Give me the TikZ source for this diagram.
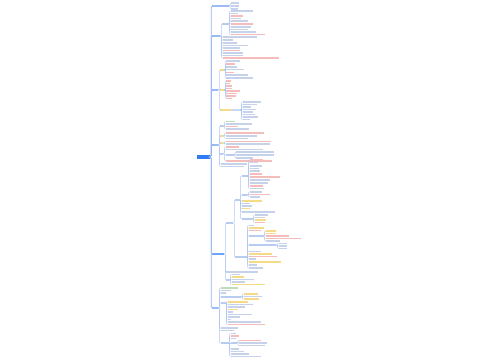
\documentclass[tikz,border=0pt]{standalone}
\usepackage{xcolor}
\usepackage{tikz}
\usetikzlibrary{positioning}
\definecolor{rootblue}{HTML}{2F7CF6}
\definecolor{topicblue}{HTML}{9ABCF3}
\definecolor{subblue}{HTML}{B8CCEF}
\definecolor{linkblue}{HTML}{AFC8F3}
\definecolor{trunkblue}{HTML}{93B6F0}
\definecolor{txtblue}{HTML}{C6D1EA}
\definecolor{txtred}{HTML}{F5BCBC}
\definecolor{hiyellow}{HTML}{F5DA88}
\definecolor{txtgreen}{HTML}{BEDFB5}
\tikzset{
  rootbox/.style={rectangle, fill=rootblue, minimum width=13pt,
    minimum height=4.5pt, inner sep=0pt},
  topic/.style={rectangle, fill=topicblue, minimum height=2.4pt,
    inner sep=0pt, anchor=west},
  subtopic/.style={rectangle, fill=#1, minimum height=2pt,
    inner sep=0pt, anchor=west},
  subtopic/.default=subblue,
  leaf/.style={rectangle, fill=#1, minimum height=1.2pt,
    inner sep=0pt, anchor=west},
  leaf/.default=txtblue,
  trunk/.style={draw=trunkblue, line width=0.8pt, rounded corners=1.5pt},
  link/.style={draw=linkblue, line width=0.45pt, rounded corners=1pt},
}
\begin{document}
\begin{tikzpicture}[x=1pt, y=-1pt]
  \useasboundingbox[fill=white] (0,0) rectangle (500,360);
  % root and main topics
  \node[rootbox] (root) at (203.5,157) {};
  \node[topic, minimum width=17] (a) at (212,6) {};
  \node[topic, minimum width=8] (b) at (212,36) {};
  \node[topic, minimum width=6] (c) at (212,90) {};
  \node[topic, minimum width=6] (d) at (212,145) {};
  \node[topic, minimum width=12, fill=rootblue!70] (e) at (212,254) {};
  \node[topic, minimum width=6] (f) at (212,308) {};
  \foreach \t in {a,b,c,d,e,f}
    \draw[trunk] (root.east) -- ++(1,0) |- (\t.west);

  % topic a
  \foreach \y/\w [count=\i] in {3/8,6/8,9/7}{
    \node[leaf, minimum width=\w] (a\i) at (231,\y) {};
    \draw[link] (a.east) -- ++(1,0) |- (a\i.west);
  }

  % topic b
  \node[subtopic, minimum width=6] (b1) at (222,24) {};
  \draw[link] (b.east) -- ++(1,0) |- (b1.west);
  \foreach \y/\w/\c [count=\i] in {11/22/txtblue, 13.5/7/txtblue, 16/12/txtred,
      18.5/10/txtblue, 21/17/txtblue, 24/22/txtred, 27/20/txtblue,
      29.5/17/txtblue, 32/25/txtblue, 34.5/34/txtred}{
    \node[leaf=\c, minimum width=\w] (b1-\i) at (231,\y) {};
    \draw[link] (b1.east) -- ++(1,0) |- (b1-\i.west);
  }
  \foreach \y/\w/\c [count=\i] in {37/34/txtblue, 40/10/txtblue, 43/14/txtblue,
      45.5/25/txtblue, 48/17/txtblue, 50.5/17/txtred, 53/20/txtblue,
      55.5/20/txtblue, 58/56/txtred}{
    \node[leaf=\c, minimum width=\w] (b-\i) at (223,\y) {};
    \draw[link] (b.east) -- ++(1,0) |- (b-\i.west);
  }

  % topic c
  \node[subtopic=hiyellow, minimum width=4] (c1) at (220,70) {};
  \node[subtopic=hiyellow, minimum width=4] (c2) at (220,90) {};
  \node[subtopic=hiyellow, minimum width=11] (c3) at (220,110) {};
  \foreach \t in {c1,c2,c3}
    \draw[link] (c.east) -- ++(1,0) |- (\t.west);
  \foreach \y/\w/\c [count=\i] in {61/14/txtblue, 64/9/txtred, 67/11/txtblue,
      69.5/18/txtblue, 72.5/8/txtred, 75/22/txtblue, 78/27/txtblue}{
    \node[leaf=\c, minimum width=\w] (c1-\i) at (226,\y) {};
    \draw[link] (c1.east) -- ++(1,0) |- (c1-\i.west);
  }
  \foreach \y/\w [count=\i] in {81/5, 83.5/4, 86/6, 88.5/6, 91/14, 93.5/11,
      96/10, 98.5/6}{
    \node[leaf=txtred, minimum width=\w] (c2-\i) at (226,\y) {};
    \draw[link] (c2.east) -- ++(1,0) |- (c2-\i.west);
  }
  \foreach \y/\w [count=\i] in {102/18, 104.5/14, 107/8, 109.5/13, 112/10,
      114.5/12, 117/15, 119.5/7}{
    \node[leaf, minimum width=\w] (c3-\i) at (243,\y) {};
    \draw[link] (c3.east) -- ++(10,0) |- (c3-\i.west);
  }

  % topic d
  \node[subtopic, minimum width=3] (d1) at (220,126) {};
  \node[subtopic=hiyellow, minimum width=3] (d2) at (220,136) {};
  \node[subtopic=hiyellow, minimum width=3] (d3) at (220,143) {};
  \node[subtopic, minimum width=3] (d4) at (220,153.5) {};
  \foreach \t in {d1,d2,d3,d4}
    \draw[link] (d.east) -- ++(1,0) |- (\t.west);
  \foreach \y/\w/\c [count=\i] in {121.5/9/txtgreen, 124/26/txtblue,
      126.5/12/txtred, 129/23/txtblue}{
    \node[leaf=\c, minimum width=\w] (d1-\i) at (225.5,\y) {};
    \draw[link] (d1.east) -- ++(1,0) |- (d1-\i.west);
  }
  \foreach \y/\w/\c [count=\i] in {133/38/txtred, 136/31/txtblue,
      138.5/22/txtblue}{
    \node[leaf=\c, minimum width=\w] (d2-\i) at (225.5,\y) {};
    \draw[link] (d2.east) -- ++(1,0) |- (d2-\i.west);
  }
  \foreach \y/\w/\c [count=\i] in {141.5/45/txtred, 144/44/txtblue}{
    \node[leaf=\c, minimum width=\w] (d3-\i) at (225.5,\y) {};
    \draw[link] (d3.east) -- ++(1,0) |- (d3-\i.west);
  }
  \node[subtopic, minimum width=8] (d4s) at (225.5,155) {};
  \draw[link] (d4.east) -- ++(1,0) |- (d4s.west);
  \foreach \y/\w/\c [count=\i] in {147/13/txtred, 149.5/37/txtblue,
      161/46/txtred}{
    \node[leaf=\c, minimum width=\w] (d4-\i) at (225.5,\y) {};
    \draw[link] (d4.east) -- ++(1,0) |- (d4-\i.west);
  }
  \foreach \y/\w [count=\i] in {152/38, 155/38, 158/17}{
    \node[leaf, minimum width=\w] (d4s-\i) at (236,\y) {};
    \draw[link] (d4s.east) -- ++(1,0) |- (d4s-\i.west);
  }
  \foreach \y/\w [count=\i] in {164/26, 166.5/23}{
    \node[leaf, minimum width=\w] (d-\i) at (221,\y) {};
    \draw[link] (d.east) -- ++(1,0) |- (d-\i.west);
  }

  % topic e
  \node[subtopic, minimum width=7] (e1) at (226,223) {};
  \node[leaf, minimum width=32] (e2) at (226,272) {};
  \node[subtopic, minimum width=3] (e3) at (226,280) {};
  \foreach \t in {e1,e2,e3}
    \draw[link] (e.east) -- ++(1,0) |- (\t.west);
  \node[subtopic, minimum width=4] (e1x) at (235,200) {};
  \node[subtopic, minimum width=11] (e1y) at (235,257) {};
  \foreach \t in {e1x,e1y}
    \draw[link] (e1.east) -- ++(1,0) |- (\t.west);
  \node[subtopic, minimum width=5] (e1xa) at (242,176) {};
  \node[subtopic, minimum width=5] (e1xb) at (242,195) {};
  \node[subtopic, minimum width=10] (e1xc) at (242,219) {};
  \foreach \t in {e1xa,e1xb,e1xc}
    \draw[link] (e1x.east) -- ++(1,0) |- (\t.west);
  \foreach \y/\w/\c [count=\i] in {201/20/hiyellow, 203.5/8/txtblue,
      206/10/txtblue, 208.5/8/hiyellow, 212/33/txtblue}{
    \node[leaf=\c, minimum width=\w] (e1x-\i) at (242,\y) {};
    \draw[link] (e1x.east) -- ++(1,0) |- (e1x-\i.west);
  }
  \foreach \y/\w/\c [count=\i] in {160/13/txtred, 162.5/8/txtblue,
      166/12/txtblue, 168.5/9/txtblue, 171/10/txtblue, 174/12/txtred,
      177/30/txtred, 180/20/txtblue, 183/18/txtblue, 186/13/txtred,
      188.5/14/txtblue}{
    \node[leaf=\c, minimum width=\w] (e1xa-\i) at (249.5,\y) {};
    \draw[link] (e1xa.east) -- ++(1,0) |- (e1xa-\i.west);
  }
  \foreach \y/\w/\c [count=\i] in {192/12/txtblue, 194.5/20/txtred,
      197/10/txtblue}{
    \node[leaf=\c, minimum width=\w] (e1xb-\i) at (249.5,\y) {};
    \draw[link] (e1xb.east) -- ++(1,0) |- (e1xb-\i.west);
  }
  \foreach \y/\w/\c [count=\i] in {215/13/txtblue, 217.5/10/txtblue,
      220/11/hiyellow, 222.5/10/txtred}{
    \node[leaf=\c, minimum width=\w] (e1xc-\i) at (254.5,\y) {};
    \draw[link] (e1xc.east) -- ++(1,0) |- (e1xc-\i.west);
  }
  \node[subtopic, minimum width=14] (e1ya) at (249,236) {};
  \node[subtopic, minimum width=27] (e1yb) at (249,245) {};
  \foreach \t in {e1ya,e1yb}
    \draw[link] (e1y.east) -- ++(1,0) |- (\t.west);
  \foreach \y/\w/\c [count=\i] in {225.5/5/txtblue, 228/15/hiyellow,
      230.5/12/txtred, 251.5/12/txtblue, 254/23/hiyellow, 256.5/28/txtred,
      259/7/txtblue, 262/32/hiyellow, 265/8/txtblue, 268/14/txtblue}{
    \node[leaf=\c, minimum width=\w] (e1y-\i) at (249,\y) {};
    \draw[link] (e1y.east) -- ++(1,0) |- (e1y-\i.west);
  }
  \foreach \y/\w/\c [count=\i] in {231/10/hiyellow, 233.5/10/hiyellow,
      236/23/txtred, 238.5/35/txtred, 241/14/txtblue}{
    \node[leaf=\c, minimum width=\w] (e1ya-\i) at (265.5,\y) {};
    \draw[link] (e1ya.east) -- ++(1,0) |- (e1ya-\i.west);
  }
  \foreach \y/\w [count=\i] in {243.5/8, 246/8, 248.5/8}{
    \node[leaf, minimum width=\w] (e1yb-\i) at (278.5,\y) {};
    \draw[link] (e1yb.east) -- ++(1,0) |- (e1yb-\i.west);
  }
  \foreach \y/\w/\c [count=\i] in {274.5/8/txtblue, 277/12/hiyellow,
      279.5/22/txtblue, 282/13/txtblue, 284.5/33/hiyellow}{
    \node[leaf=\c, minimum width=\w] (e3-\i) at (231.5,\y) {};
    \draw[link] (e3.east) -- ++(1,0) |- (e3-\i.west);
  }

  % topic f
  \node[subtopic, minimum width=20] (f1) at (221,297) {};
  \node[subtopic, minimum width=4] (f2) at (221,303) {};
  \node[subtopic, minimum width=7] (f3) at (221,343) {};
  \foreach \t in {f1,f2,f3}
    \draw[link] (f.east) -- ++(1,0) |- (\t.west);
  \foreach \y/\w/\c [count=\i] in {288/17/txtgreen, 290.5/10/txtblue,
      293/5/txtblue, 328/17/txtblue, 330.5/13/txtblue}{
    \node[leaf=\c, minimum width=\w] (f-\i) at (221,\y) {};
    \draw[link] (f.east) -- ++(1,0) |- (f-\i.west);
  }
  \foreach \y/\w/\c [count=\i] in {294/14/hiyellow, 296.5/18/txtblue,
      299/15/hiyellow}{
    \node[leaf=\c, minimum width=\w] (f1-\i) at (243.5,\y) {};
    \draw[link] (f1.east) -- ++(1,0) |- (f1-\i.west);
  }
  \foreach \y/\w/\c [count=\i] in {302/20/hiyellow, 304.5/25/txtblue,
      307/17/txtblue, 309.5/10/hiyellow, 312/5/txtblue, 314.5/24/txtblue,
      317/12/txtblue, 319.5/3/txtblue, 322/33/txtblue, 324.5/37/txtred}{
    \node[leaf=\c, minimum width=\w] (f2-\i) at (227.5,\y) {};
    \draw[link] (f2.east) -- ++(1,0) |- (f2-\i.west);
  }
  \node[subtopic, minimum width=6] (f3a) at (230.5,343) {};
  \draw[link] (f3.east) -- (f3a.west);
  \foreach \y/\w/\c [count=\i] in {333.5/5/txtblue, 336/8/txtred,
      338.5/5/txtblue, 349/8/txtblue, 351.5/13/txtblue, 354/18/txtblue,
      356.5/30/txtblue}{
    \node[leaf=\c, minimum width=\w] (f3-\i) at (230.5,\y) {};
    \draw[link] (f3.east) -- ++(1,0) |- (f3-\i.west);
  }
  \foreach \y/\w/\c [count=\i] in {340.5/22/txtred, 343/28/txtblue,
      345.5/26/txtblue}{
    \node[leaf=\c, minimum width=\w] (f3a-\i) at (239,\y) {};
    \draw[link] (f3a.east) -- ++(1,0) |- (f3a-\i.west);
  }
\end{tikzpicture}
\end{document}
